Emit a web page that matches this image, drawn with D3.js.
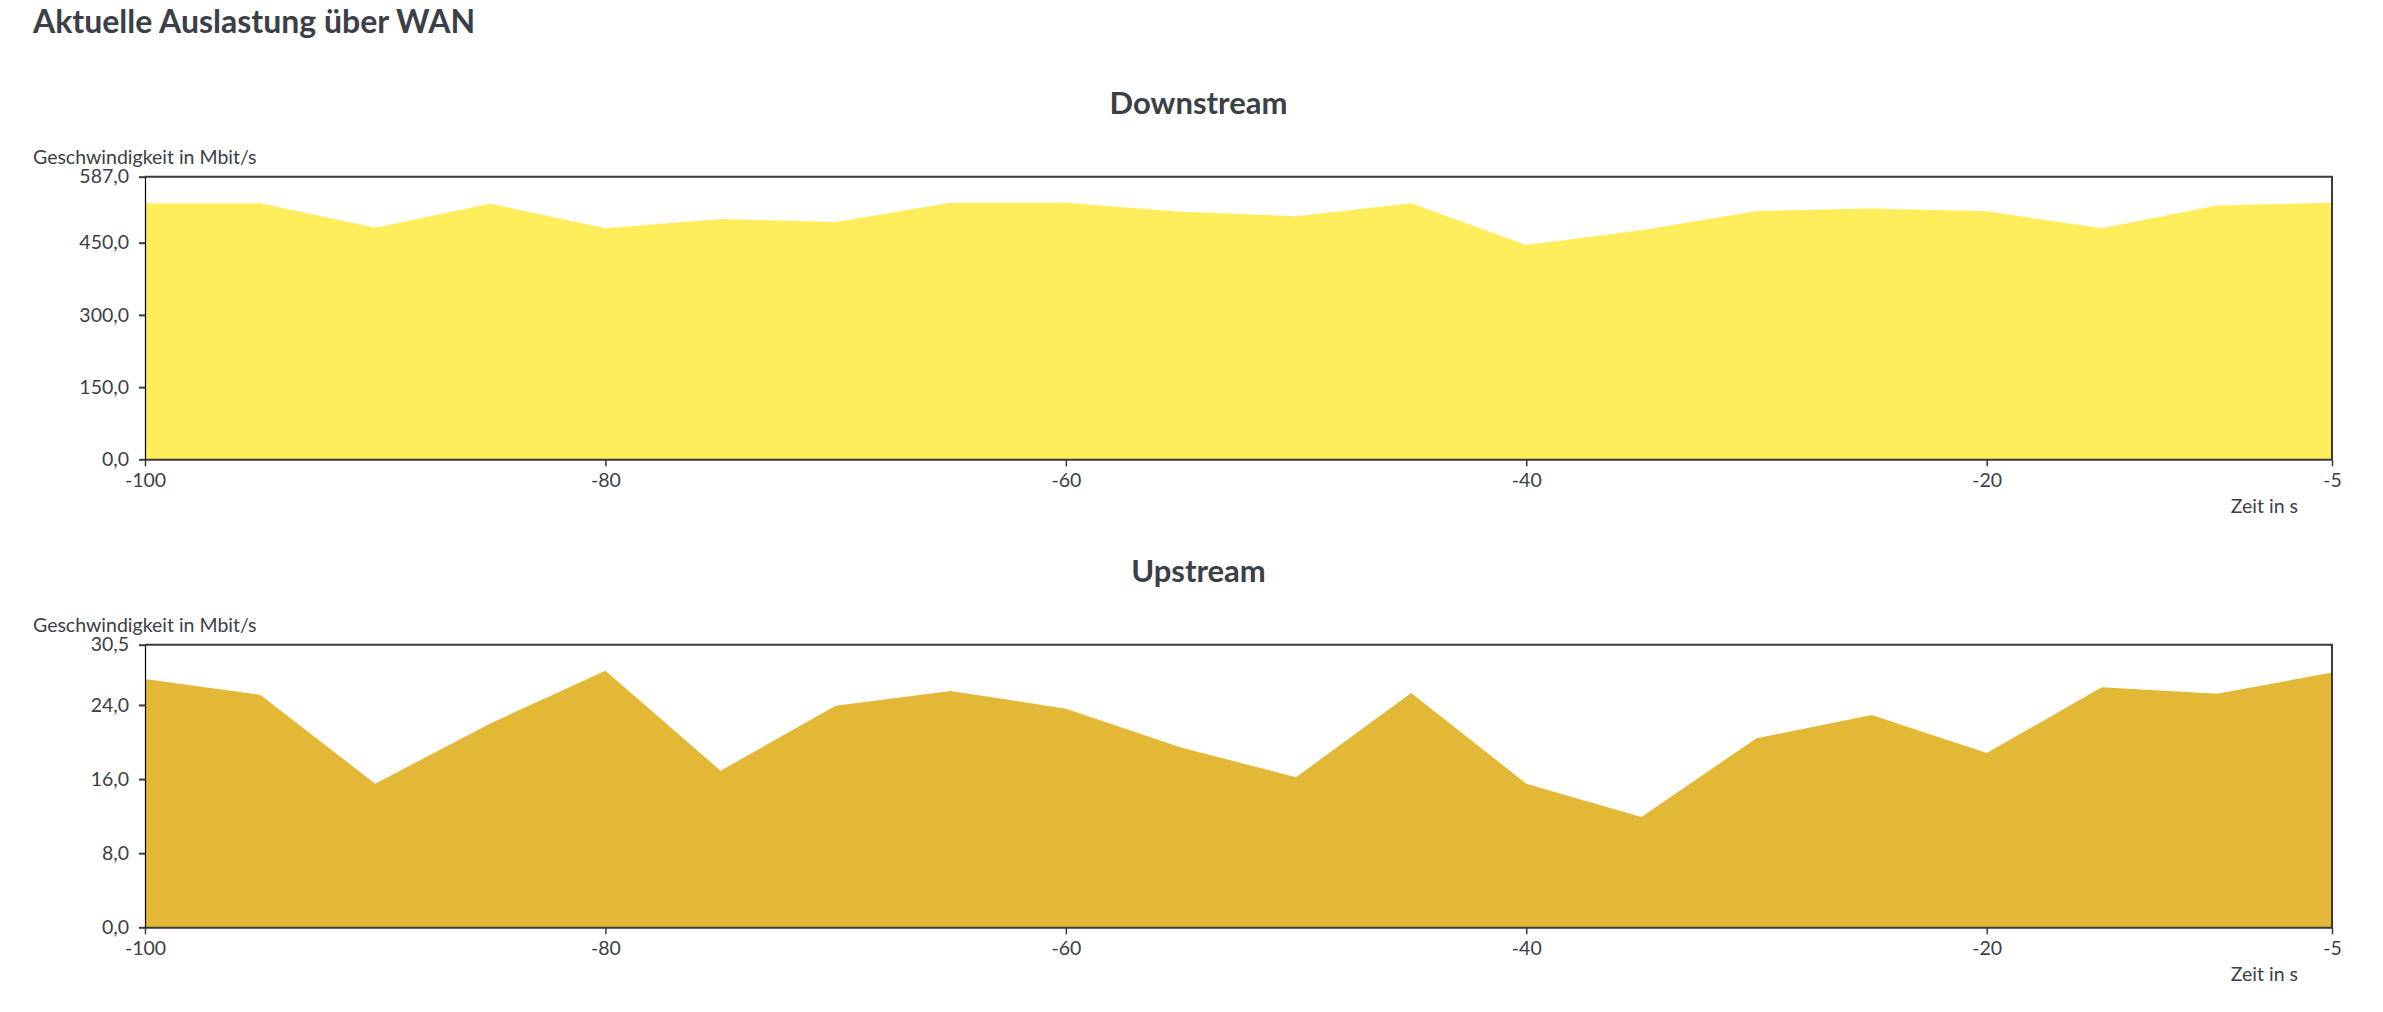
<!DOCTYPE html>
<html>
<head>
<meta charset="utf-8">
<script src="https://cdn.jsdelivr.net/npm/d3@7"></script>
<style>
	body { margin: 0; background: #fff; }
	text { font-family: 'Source Sans Pro', Lato, sans-serif; fill: #3b4046; }
</style>
</head>
<body>
<div id="draw"></div>
<script>
// time in s, one sample every 5 s
const seconds = [-100, -95, -90, -85, -80, -75, -70, -65, -60, -55, -50, -45, -40, -35, -30, -25, -20, -15, -10, -5];
// Mbit/s
const downstream = [532, 532, 481, 531, 480, 499, 493, 533, 533, 514, 505, 532, 445, 476, 516, 521, 515, 480, 527, 533];
const upstream = [26.8, 25.1, 15.5, 22.0, 27.7, 16.9, 23.9, 25.5, 23.6, 19.4, 16.2, 25.3, 15.5, 11.9, 20.4, 22.9, 18.8, 25.9, 25.2, 27.5];

const xTicks = [-100, -80, -60, -40, -20, -5];
const downTicks = [0, 150, 300, 450, 587];
const upTicks = [0, 8, 16, 24, 30.5];

const de = d3.formatLocale({ decimal: ',', thousands: '.', grouping: [3], currency: ['', ' €'], minus: '-' });
const fmt = de.format('.1f');
const fmtX = de.format('d');

var svg = d3
	.select('#draw')
	.append('svg')
	.attr('width', 2383)
	.attr('height', 1012);

// page title
svg
	.append('text')
	.attr('x', 33)
	.attr('y', 33)
	.style('font-size', '32px')
	.style('font-weight', 'bold')
	.text('Aktuelle Auslastung über WAN');

var margin = { left: 145, right: 51 },
	width = 2383 - margin.left - margin.right,
	height = 282.6;

const drawChart = (title, values, yTicks, color, top) => {
	var g = svg.append('g').attr('transform', 'translate(' + margin.left + ',' + top + ')');

	var x = d3.scaleLinear().domain([-100, -5]).range([0, width]);
	var y = d3.scaleLinear().domain([0, yTicks[yTicks.length - 1]]).range([height, 0]);

	// title over the chart
	g.append('text')
		.attr('x', width / 2 - 40)
		.attr('y', -62.7)
		.attr('text-anchor', 'middle')
		.style('font-size', '31px')
		.style('font-weight', 'bold')
		.text(title);

	// y label
	g.append('text')
		.attr('x', 33 - margin.left)
		.attr('y', -12.7)
		.style('font-size', '19.5px')
		.text('Geschwindigkeit in Mbit/s');

	var area = d3
		.area()
		.x(function (d, i) {
			return x(seconds[i]);
		})
		.y0(height)
		.y1(function (d) {
			return y(d);
		});

	g.append('path').datum(values).attr('d', area).style('fill', color);

	// frame top and right
	g.append('path')
		.attr('d', 'M0,0H' + width + 'V' + height)
		.style('fill', 'none')
		.style('stroke', '#3a3a3a')
		.style('stroke-width', 2);

	var xAxis = g
		.append('g')
		.attr('transform', 'translate(0,' + height + ')')
		.call(d3.axisBottom(x).tickValues(xTicks).tickSize(7).tickSizeOuter(0).tickPadding(7).tickFormat(fmtX));
	xAxis.select('.domain').style('stroke', '#3a3a3a').style('stroke-width', 2);
	xAxis.selectAll('.tick line').style('stroke', '#3a3a3a').style('stroke-width', 1.5);
	xAxis.selectAll('text').style('font-size', '19.5px').attr('font-family', null).attr('fill', null);

	var yAxis = g
		.append('g')
		.call(d3.axisLeft(y).tickValues(yTicks).tickSize(6).tickSizeOuter(0).tickPadding(10).tickFormat(fmt));
	yAxis.select('.domain').style('stroke', '#000').style('stroke-width', 1.2);
	yAxis.selectAll('.tick line').style('stroke', '#3a3a3a').style('stroke-width', 2);
	yAxis.selectAll('text').style('font-size', '19.5px').attr('font-family', null).attr('fill', null);

	// x label
	g.append('text')
		.attr('x', width - 34)
		.attr('y', height + 53.4)
		.attr('text-anchor', 'end')
		.style('font-size', '19.5px')
		.text('Zeit in s');
};

drawChart('Downstream', downstream, downTicks, '#ffed5b', 176.7);
drawChart('Upstream', upstream, upTicks, '#e3b836', 644.7);
</script>
</body>
</html>
